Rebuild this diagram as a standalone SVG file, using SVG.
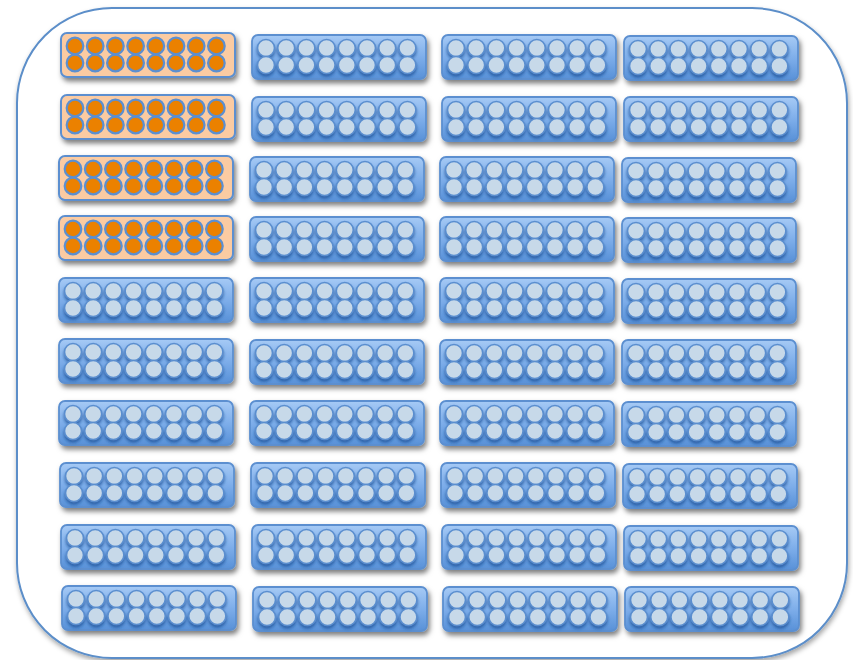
<svg xmlns="http://www.w3.org/2000/svg" xmlns:xlink="http://www.w3.org/1999/xlink" width="853" height="660" viewBox="0 0 853 660">
<style>
.frame{fill:#ffffff;stroke:#5b8ec9;stroke-width:2}
.bb{fill:url(#gBlue);stroke:#5b8fd0;stroke-width:1.8}
.ob{fill:#fbcba2;stroke:#5b8fd0;stroke-width:2}
.bd{fill:#c7d9e9;stroke:#5a8ecf;stroke-width:1.6}
.od{fill:#eb8100;stroke:#5b8fd0;stroke-width:2.2}
</style>
<defs>
<linearGradient id="gBlue" x1="0" y1="0" x2="0" y2="1">
<stop offset="0" stop-color="#a6caf5"/>
<stop offset="0.5" stop-color="#7eaeea"/>
<stop offset="1" stop-color="#5891d8"/>
</linearGradient>
<filter id="shadow" x="-10%" y="-20%" width="125%" height="170%">
<feDropShadow dx="2" dy="3.5" stdDeviation="2.5" flood-color="#000" flood-opacity="0.5"/>
</filter>
<filter id="fshadow" x="-5%" y="-5%" width="115%" height="115%">
<feDropShadow dx="1" dy="3" stdDeviation="2.5" flood-color="#000" flood-opacity="0.35"/>
</filter>
<filter id="dotShadow" x="-10%" y="-20%" width="120%" height="160%">
<feDropShadow dx="0" dy="2.5" stdDeviation="1.6" flood-color="#1f4f96" flood-opacity="0.75"/>
</filter>
<g id="blue">
<rect class="bb" x="1" y="1" width="174" height="44" rx="6"/>
<g filter="url(#dotShadow)">
<circle class="bd" cx="15" cy="14" r="8.5"/><circle class="bd" cx="35.2" cy="14" r="8.5"/><circle class="bd" cx="55.4" cy="14" r="8.5"/><circle class="bd" cx="75.6" cy="14" r="8.5"/><circle class="bd" cx="95.8" cy="14" r="8.5"/><circle class="bd" cx="116" cy="14" r="8.5"/><circle class="bd" cx="136.2" cy="14" r="8.5"/><circle class="bd" cx="156.4" cy="14" r="8.5"/>
<circle class="bd" cx="15" cy="31" r="8.5"/><circle class="bd" cx="35.2" cy="31" r="8.5"/><circle class="bd" cx="55.4" cy="31" r="8.5"/><circle class="bd" cx="75.6" cy="31" r="8.5"/><circle class="bd" cx="95.8" cy="31" r="8.5"/><circle class="bd" cx="116" cy="31" r="8.5"/><circle class="bd" cx="136.2" cy="31" r="8.5"/><circle class="bd" cx="156.4" cy="31" r="8.5"/>
</g>
</g>
<g id="orange">
<rect class="ob" x="1" y="1" width="174" height="44" rx="6"/>
<circle class="od" cx="15" cy="14" r="8.3"/><circle class="od" cx="35.2" cy="14" r="8.3"/><circle class="od" cx="55.4" cy="14" r="8.3"/><circle class="od" cx="75.6" cy="14" r="8.3"/><circle class="od" cx="95.8" cy="14" r="8.3"/><circle class="od" cx="116" cy="14" r="8.3"/><circle class="od" cx="136.2" cy="14" r="8.3"/><circle class="od" cx="156.4" cy="14" r="8.3"/>
<circle class="od" cx="15" cy="31" r="8.3"/><circle class="od" cx="35.2" cy="31" r="8.3"/><circle class="od" cx="55.4" cy="31" r="8.3"/><circle class="od" cx="75.6" cy="31" r="8.3"/><circle class="od" cx="95.8" cy="31" r="8.3"/><circle class="od" cx="116" cy="31" r="8.3"/><circle class="od" cx="136.2" cy="31" r="8.3"/><circle class="od" cx="156.4" cy="31" r="8.3"/>
</g>
</defs>
<g id="container">
<rect class="frame" x="17" y="8" width="830" height="650" rx="95" ry="95" filter="url(#fshadow)"/>
</g>
<g id="connectors"/>
<g id="blocks" filter="url(#shadow)">
<g id="r1c1"><use href="#orange" x="60" y="32"/></g>
<g id="r1c2"><use href="#blue" x="251" y="34"/></g>
<g id="r1c3"><use href="#blue" x="441" y="34"/></g>
<g id="r1c4"><use href="#blue" x="623" y="35"/></g>
<g id="r2c1"><use href="#orange" x="60" y="94"/></g>
<g id="r2c2"><use href="#blue" x="251" y="96"/></g>
<g id="r2c3"><use href="#blue" x="441" y="96"/></g>
<g id="r2c4"><use href="#blue" x="623" y="96"/></g>
<g id="r3c1"><use href="#orange" x="58" y="155"/></g>
<g id="r3c2"><use href="#blue" x="249" y="156"/></g>
<g id="r3c3"><use href="#blue" x="439" y="156"/></g>
<g id="r3c4"><use href="#blue" x="621" y="157"/></g>
<g id="r4c1"><use href="#orange" x="58" y="215"/></g>
<g id="r4c2"><use href="#blue" x="249" y="216"/></g>
<g id="r4c3"><use href="#blue" x="439" y="216"/></g>
<g id="r4c4"><use href="#blue" x="621" y="217"/></g>
<g id="r5c1"><use href="#blue" x="58" y="277"/></g>
<g id="r5c2"><use href="#blue" x="249" y="277"/></g>
<g id="r5c3"><use href="#blue" x="439" y="277"/></g>
<g id="r5c4"><use href="#blue" x="621" y="278"/></g>
<g id="r6c1"><use href="#blue" x="58" y="338"/></g>
<g id="r6c2"><use href="#blue" x="249" y="339"/></g>
<g id="r6c3"><use href="#blue" x="439" y="339"/></g>
<g id="r6c4"><use href="#blue" x="621" y="339"/></g>
<g id="r7c1"><use href="#blue" x="58" y="400"/></g>
<g id="r7c2"><use href="#blue" x="249" y="400"/></g>
<g id="r7c3"><use href="#blue" x="439" y="400"/></g>
<g id="r7c4"><use href="#blue" x="621" y="401"/></g>
<g id="r8c1"><use href="#blue" x="59" y="462"/></g>
<g id="r8c2"><use href="#blue" x="250" y="462"/></g>
<g id="r8c3"><use href="#blue" x="440" y="462"/></g>
<g id="r8c4"><use href="#blue" x="622" y="463"/></g>
<g id="r9c1"><use href="#blue" x="60" y="524"/></g>
<g id="r9c2"><use href="#blue" x="251" y="524"/></g>
<g id="r9c3"><use href="#blue" x="441" y="524"/></g>
<g id="r9c4"><use href="#blue" x="623" y="525"/></g>
<g id="r10c1"><use href="#blue" x="61" y="585"/></g>
<g id="r10c2"><use href="#blue" x="252" y="586"/></g>
<g id="r10c3"><use href="#blue" x="442" y="586"/></g>
<g id="r10c4"><use href="#blue" x="624" y="586"/></g>
</g>
</svg>
